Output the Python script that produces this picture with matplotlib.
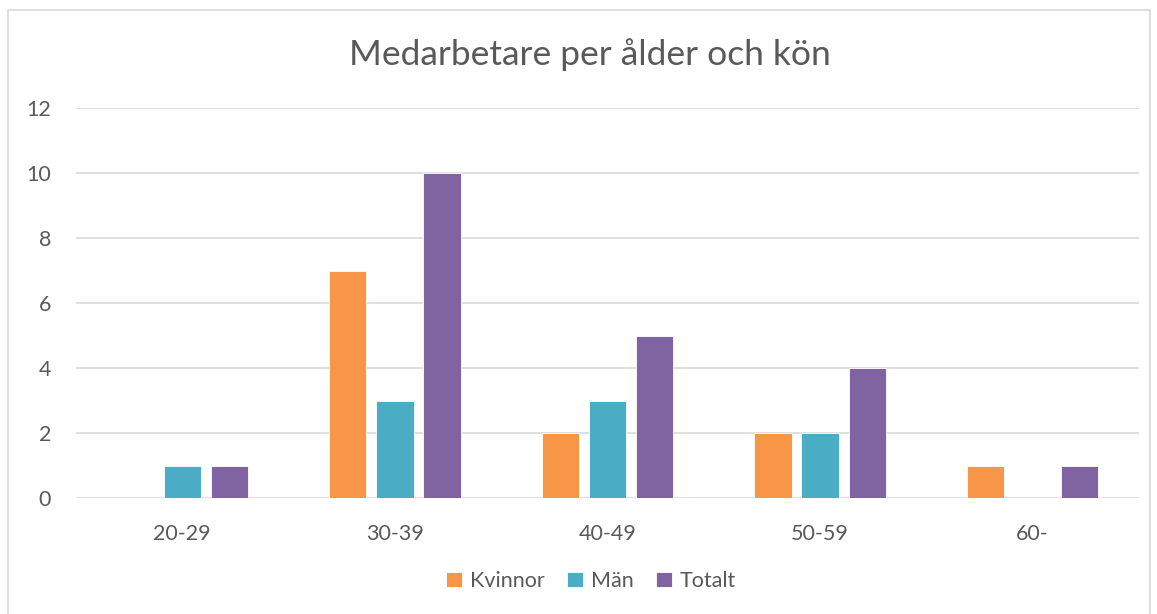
import matplotlib
matplotlib.use("Agg")
import matplotlib.pyplot as plt
import numpy as np
from matplotlib.patches import Rectangle

categories = ["20-29", "30-39", "40-49", "50-59", "60-"]
kvinnor = [0, 7, 2, 2, 1]
man = [1, 3, 3, 2, 0]
totalt = [1, 10, 5, 4, 1]
series_names = ["Kvinnor", "Män", "Totalt"]
title = "Medarbetare per ålder och kön"
yticks = [0, 2, 4, 6, 8, 10, 12]

colors = ["#F79646", "#4BACC6", "#8064A2"]
text_color = "#595959"
plt.rcParams['font.family'] = ['Lato', 'DejaVu Sans']

W, H = 1157, 614
fig = plt.figure(figsize=(W/100, H/100), dpi=100)
fig.patches.append(Rectangle((8/W, -0.05), (1150-8)/W, 1.05 - 10/H, transform=fig.transFigure,
                             fill=False, edgecolor="#D9D9D9", linewidth=1.2))

left, right = 76/W, 1139/W
bottom, top = 1 - 498/H, 1 - 108/H
ax = fig.add_axes([left, bottom, right - left, top - bottom])

x = np.arange(len(categories))
off = 0.222
w = 0.175
for i, (vals, name) in enumerate(zip([kvinnor, man, totalt], series_names)):
    ax.bar(x + (i - 1) * off, vals, width=w, color=colors[i], label=name,
           edgecolor="white", linewidth=0.6, zorder=3)

ax.set_xlim(-0.5, len(categories) - 0.5)
ax.set_ylim(0, 12)
ax.set_yticks(yticks)
ax.set_xticks(x)
ax.set_xticklabels(categories)
ax.grid(axis='y', color="#D9D9D9", linewidth=1.2, zorder=0)
ax.set_axisbelow(True)
for s in ax.spines.values():
    s.set_visible(False)
ax.tick_params(axis='both', length=0, colors=text_color, labelsize=15.5)
ax.tick_params(axis='y', pad=18)
ax.tick_params(axis='x', pad=19)

fig.text(590/W, 1 - 55/H, title, ha='center', va='center', fontsize=25.5, color=text_color)

leg = fig.legend(loc='center', bbox_to_anchor=(591/W, 1 - 581/H), ncol=3, frameon=False,
                 fontsize=15.5, handlelength=0.75, handleheight=0.75, handletextpad=0.35,
                 columnspacing=1.05, labelcolor=text_color)

fig.savefig("out.png", dpi=100, facecolor="white")
